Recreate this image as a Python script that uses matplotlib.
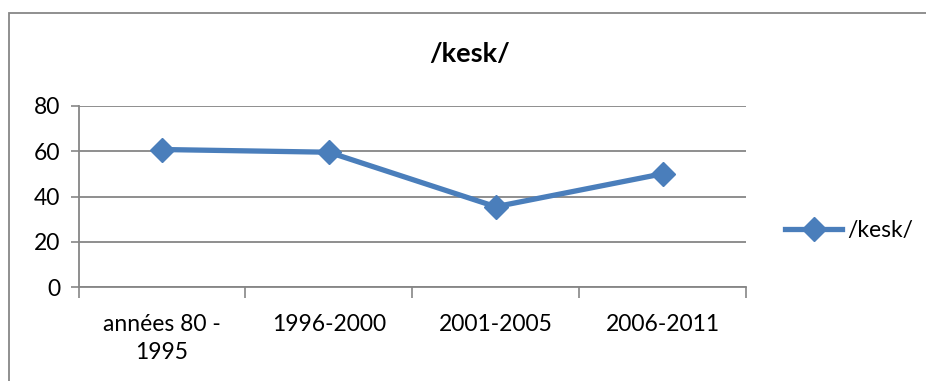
import matplotlib.pyplot as plt
import numpy as np
from matplotlib.patches import Rectangle

CATEGORIES = ["années 80 -\n1995", "1996-2000", "2001-2005", "2006-2011"]
VALUES = [60.7, 59.5, 35.5, 50.0]
SERIES = "/kesk/"
Y_TICKS = [0, 20, 40, 60, 80]

LINE_COLOR = "#4A7EBB"
GRID_COLOR = "#868686"

plt.rcParams["font.family"] = ["Lato", "DejaVu Sans"]
plt.rcParams["font.size"] = 16.5

fig = plt.figure(figsize=(9.26, 3.81), dpi=100)
ax = fig.add_axes([0.0849, 0.2459, 0.7207, 0.4767])

x = np.arange(len(CATEGORIES)) + 0.5
ax.plot(x, VALUES, color=LINE_COLOR, linewidth=3.8, marker="D",
        markersize=12, markerfacecolor=LINE_COLOR, markeredgecolor=LINE_COLOR,
        label=SERIES, zorder=3)

ax.set_xlim(0, len(CATEGORIES))
ax.set_ylim(0, 80)
ax.set_yticks(Y_TICKS)
ax.set_yticklabels([str(v) for v in Y_TICKS])

# category labels centred, tick marks on category boundaries
ax.set_xticks(np.arange(len(CATEGORIES) + 1))
ax.set_xticklabels([])
ax.set_xticks(x, minor=True)
ax.set_xticklabels(CATEGORIES, minor=True, linespacing=1.45)
ax.tick_params(axis="x", which="minor", length=0, pad=19)
ax.tick_params(axis="x", which="major", length=8, width=1.2, color=GRID_COLOR)
ax.tick_params(axis="y", length=6, width=1.2, color=GRID_COLOR, pad=7)

ax.grid(axis="y", color=GRID_COLOR, linewidth=1.3)
ax.set_axisbelow(True)
for side in ["top", "right"]:
    ax.spines[side].set_visible(False)
for side in ["left", "bottom"]:
    ax.spines[side].set_color(GRID_COLOR)
    ax.spines[side].set_linewidth(1.3)

fig.text(470 / 926, 1 - 54 / 381, SERIES, ha="center", va="center",
         fontsize=19.5, fontweight="bold")

fig.legend(loc="center left", bbox_to_anchor=(785 / 926, 1 - 231 / 381),
           frameon=False, handlelength=2.5, handletextpad=0.2,
           borderaxespad=0, borderpad=0)

# outer chart border
fig.patches.append(Rectangle((9 / 926, -0.05), 1.0, 1 - 13 / 381 + 0.05,
                             transform=fig.transFigure, fill=False,
                             edgecolor="#878787", linewidth=1.3))

fig.savefig("out.png", dpi=100)
